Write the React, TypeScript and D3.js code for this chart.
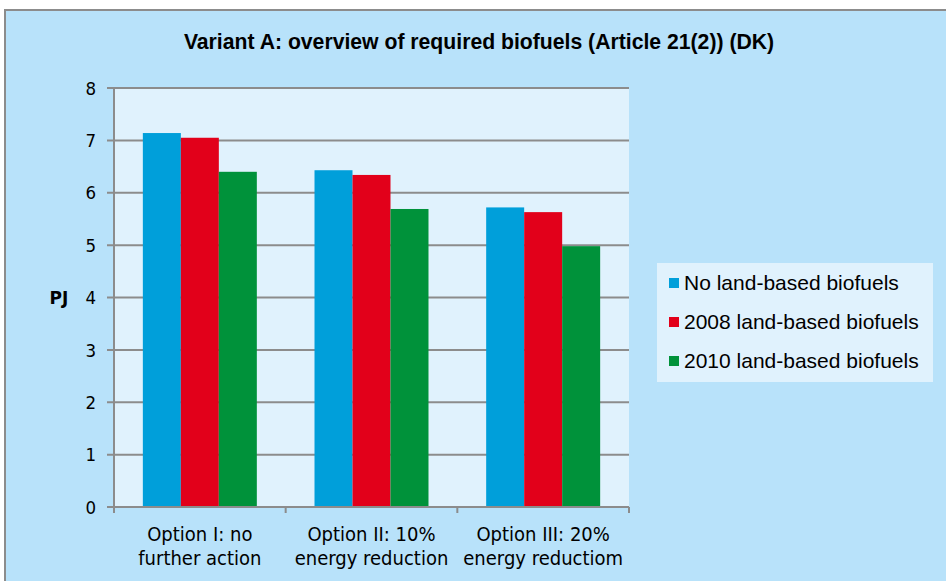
import React from "react";
import * as d3 from "d3";

const categories = [
  ["Option I: no", "further action"],
  ["Option II: 10%", "energy reduction"],
  ["Option III: 20%", "energy reductiom"],
];
const seriesNames = ["No land-based biofuels", "2008 land-based biofuels", "2010 land-based biofuels"];
const seriesColors = ["#009FDA", "#E2001A", "#00923A"];
const noLand = [7.14, 6.43, 5.72];
const land2008 = [7.05, 6.34, 5.63];
const land2010 = [6.40, 5.69, 4.98];
const yTicks = [0, 1, 2, 3, 4, 5, 6, 7, 8];
const title = "Variant A: overview of required biofuels (Article 21(2)) (DK)";

export default function App() {
  const W = 946, H = 581;
  const left = 114, right = 629, top = 88, bottom = 507;
  const series = [noLand, land2008, land2010];
  const x = d3.scaleBand<number>().domain([0, 1, 2]).range([left, right]).paddingInner(0).paddingOuter(0);
  const y = d3.scaleLinear().domain([0, 8]).range([bottom, top]);
  const bw = x.bandwidth();
  const groupW = bw * 0.664;
  const barW = groupW / 3;
  const tickFont = "'DejaVu Sans Condensed', 'DejaVu Sans', Verdana, sans-serif";
  const boundaries = [0, 1, 2].map((i) => x(i)!).concat([right]);

  return (
    <div style={{ position: "fixed", left: 0, top: 0 }}>
      <svg width={W} height={H} style={{ display: "block" }}>
        <rect x={0} y={0} width={W} height={H} fill="#ffffff" />
        <rect x={5} y={10} width={W + 10} height={H + 10} fill="#B8E2FA" stroke="#8C8C8C" strokeWidth={2} />
        <text x={479} y={49} textAnchor="middle" fontFamily="'Liberation Sans', Arial, sans-serif" fontWeight="bold" fontSize={21.2} fill="#000">
          {title}
        </text>
        <rect x={left} y={top} width={right - left} height={bottom - top} fill="#E0F2FD" />
        {yTicks.map((t) => (
          <g key={t}>
            <line x1={left - 7} x2={right} y1={y(t)} y2={y(t)} stroke="#8C8C8C" strokeWidth={2} />
            <text x={96} y={y(t)} dy="0.36em" textAnchor="end" fontFamily={tickFont} fontStretch="condensed" fontSize={18.5} fill="#000">
              {t}
            </text>
          </g>
        ))}
        <line x1={left} x2={left} y1={top} y2={bottom} stroke="#8C8C8C" strokeWidth={2} />
        {series.map((vals, s) =>
          vals.map((v, i) => {
            const cx = x(i)! + bw / 2;
            const bx = cx - groupW / 2 + s * barW;
            return (
              <rect key={`${s}-${i}`} x={bx} y={y(v)} width={barW} height={bottom - y(v)} fill={seriesColors[s]} />
            );
          })
        )}
        <line x1={left} x2={right} y1={bottom} y2={bottom} stroke="#8C8C8C" strokeWidth={2} />
        {boundaries.map((b, i) => (
          <line key={i} x1={b} x2={b} y1={bottom} y2={bottom + 6} stroke="#8C8C8C" strokeWidth={2} />
        ))}
        {categories.map((lines, i) => (
          <text key={i} textAnchor="middle" fontFamily={tickFont} fontStretch="condensed" fontSize={20} fill="#000">
            {lines.map((l, j) => (
              <tspan key={j} x={x(i)! + bw / 2} y={541 + j * 24}>
                {l}
              </tspan>
            ))}
          </text>
        ))}
        <text x={59} y={298} dy="0.35em" textAnchor="middle" fontFamily="'DejaVu Sans', Verdana, sans-serif" fontWeight="bold" fontSize={17} fill="#000">
          PJ
        </text>
        <rect x={657} y={263} width={276} height={119} fill="#E0F2FD" />
        {seriesNames.map((n, s) => (
          <g key={s}>
            <rect x={669} y={283 + s * 39 - 5} width={10} height={10} fill={seriesColors[s]} />
            <text x={684} y={283 + s * 39} dy="0.35em" fontFamily="'Liberation Sans', Arial, sans-serif" fontSize={21} fill="#000">
              {n}
            </text>
          </g>
        ))}
      </svg>
    </div>
  );
}
